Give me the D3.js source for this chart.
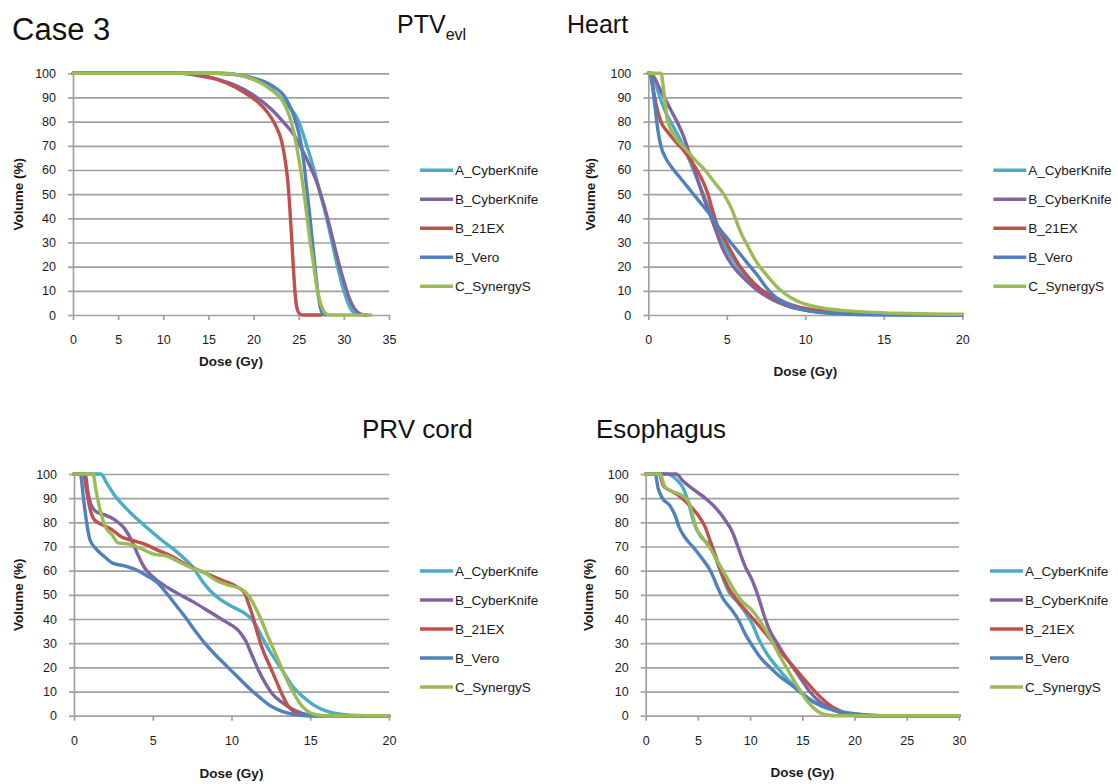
<!DOCTYPE html>
<html><head><meta charset="utf-8">
<script src="https://cdn.jsdelivr.net/npm/d3@7/dist/d3.min.js"></script>
<style>
html,body{margin:0;padding:0;background:#fff;}
svg{display:block;font-family:"Liberation Sans",Arial,sans-serif;}
</style></head>
<body>
<svg id="chart" width="1118" height="784"></svg>
<script>
// ---------- DATA ----------
const seriesNames = ["A_CyberKnife","B_CyberKnife","B_21EX","B_Vero","C_SynergyS"];
const seriesColors = ["#4BACC6","#8064A2","#C0504D","#4F81BD","#9BBB59"];
const yTicks = [0,10,20,30,40,50,60,70,80,90,100];

// PTVevl  [dose Gy, volume %]
const ptvTicks = [0,5,10,15,20,25,30,35];
const ptvA = [[0,100],[16,100],[18,99.5],[20,97.5],[22,93.5],[23.5,88],[25.0,80],[25.9,70],[26.7,60],[27.4,50],[28.1,40],[28.7,30],[29.3,20],[30.0,10],[30.7,3],[31.3,0.5],[32.5,0]];
const ptvB = [[0,100],[12,100],[14,99],[16,97.5],[18,95],[20,91],[22,85],[23.5,79],[24.4,75],[25.3,69],[26.2,62],[27.0,55],[27.6,48],[28.2,40],[28.8,31],[29.4,22],[30.0,14],[30.6,7],[31.2,2.5],[31.8,0.5],[32.5,0]];
const ptvC = [[0,100],[12,100],[15,98.5],[17,96],[19,92],[20.5,88],[21.7,83],[22.5,78],[23.1,72],[23.5,64],[23.8,55],[24.0,45],[24.2,33],[24.4,20],[24.6,9],[24.8,3],[25.1,0.5],[25.5,0],[27.5,0]];
const ptvD = [[0,100],[15,100],[18,99.5],[20,98],[22,95],[23.5,90],[24.3,84],[24.9,77],[25.3,70],[25.6,62],[25.9,52],[26.2,42],[26.5,31],[26.8,20],[27.1,10],[27.4,3],[27.7,0.5],[28,0]];
const ptvE = [[0,100],[16,100],[18,99.5],[20,97.5],[22,93],[23.3,88],[24.0,82],[24.5,75],[24.9,67],[25.3,58],[25.6,50],[25.9,41],[26.2,32],[26.6,22],[27.0,12],[27.4,5],[27.8,1.5],[28.2,0.2],[28.6,0],[33,0]];

// Heart
const heartTicks = [0,5,10,15,20];
const heartA = [[0,100],[0.2,100],[0.5,95],[0.8,89],[1.1,84],[1.5,79],[2.0,73],[2.5,66],[3.0,58],[3.5,50],[4.0,42],[4.5,34],[5.0,27],[5.6,21],[6.3,15],[7.0,10.5],[7.8,7],[8.8,4],[10,2],[12,0.8],[15,0.2],[20,0]];
const heartB = [[0,100],[0.3,99],[0.7,94],[1.1,89],[1.5,84],[1.9,79],[2.3,73],[2.7,65],[3.1,57],[3.5,49],[3.9,42],[4.3,35],[4.7,28],[5.1,23],[5.6,18.5],[6.2,14.5],[7.0,10],[8.0,6],[9.0,3.5],[10,2],[12,0.8],[15,0.2],[20,0]];
const heartC = [[0,100],[0.1,100],[0.3,94],[0.5,87],[0.8,80],[1.2,76],[1.7,72],[2.2,68.5],[2.7,64],[3.1,60],[3.5,55],[3.8,50],[4.1,43],[4.4,37],[4.8,32],[5.3,26],[5.8,20.5],[6.4,15.5],[7.1,11],[7.8,8],[8.6,5.5],[9.5,3.5],[10.5,2.2],[12,1.2],[14,0.5],[17,0.2],[20,0]];
const heartD = [[0,100],[0.1,100],[0.3,93],[0.45,85],[0.6,77],[0.8,70],[1.1,65],[1.5,61],[2.0,57],[2.5,53],[3.0,49],[3.5,45],[4.0,41],[4.5,36],[5.0,32],[5.5,28],[6.0,24],[6.5,20],[7.0,16],[7.5,11.5],[8.0,8],[8.6,5.5],[9.3,3.5],[10,2],[11,1],[13,0.3],[15,0.1],[20,0]];
const heartE = [[0,100],[0.8,100],[1.0,92],[1.2,81],[1.5,76],[1.9,72],[2.4,68.5],[3.0,64],[3.6,60],[4.2,55],[4.8,50],[5.3,44],[5.6,39],[5.9,34],[6.3,29],[6.7,24],[7.1,20],[7.6,16],[8.3,11],[9.0,7.5],[10,4.5],[11,3],[12.5,1.8],[14,1.2],[16,0.7],[18,0.4],[20,0.3]];

// PRV cord
const prvTicks = [0,5,10,15,20];
const prvA = [[0,100],[1.7,100],[2.1,96],[2.6,91],[3.2,86.5],[3.9,82],[4.6,78],[5.5,73],[6.3,69],[7.0,65],[7.6,61],[8.1,56],[8.6,52],[9.3,48],[10.1,45],[10.8,42.5],[11.4,39],[11.9,33],[12.4,27],[12.9,22],[13.4,17],[13.9,12],[14.5,8],[15.2,4.5],[16,2],[16.8,0.7],[17.6,0.2],[18.5,0],[20,0]];
const prvB = [[0,100],[0.7,100],[0.9,92],[1.1,87],[1.5,84],[2.0,83],[2.6,81],[3.2,77.5],[3.7,72],[4.1,66],[4.5,61],[5.0,57.5],[5.7,54],[6.6,50.5],[7.6,47],[8.6,43],[9.6,39],[10.4,35.5],[10.9,31],[11.3,25],[11.7,19],[12.1,14],[12.6,9],[13.2,5.5],[13.8,3],[14.4,1.2],[15,0.3],[15.5,0],[20,0]];
const prvC = [[0,100],[0.6,100],[0.8,93],[1.0,86],[1.3,81],[1.8,79],[2.4,77],[3.0,74],[3.7,72.5],[4.5,71],[5.3,68.5],[6.2,66],[7.0,63],[7.8,60.5],[8.7,58],[9.6,55.5],[10.3,53.5],[10.8,51],[11.1,46],[11.4,40],[11.7,33],[12.0,27],[12.4,21],[12.8,15],[13.2,9],[13.6,4],[14.0,1.5],[14.5,0.3],[15,0],[20,0]];
const prvD = [[0,100],[0.4,100],[0.6,90],[0.8,80],[1.0,73],[1.4,69],[1.9,66],[2.5,63],[3.2,62],[3.9,60.5],[4.6,58],[5.3,55],[5.9,50.5],[6.5,45.5],[7.1,40.5],[7.7,35],[8.3,30],[9.0,25],[9.7,20.5],[10.4,16],[11.1,11.5],[11.8,7.5],[12.5,4],[13.2,1.8],[14,0.5],[15,0],[20,0]];
const prvE = [[0,100],[1.2,100],[1.4,93],[1.7,84],[2.0,78],[2.4,75],[2.8,71.5],[3.5,71],[4.3,69],[5.0,67],[5.9,66],[6.7,63.5],[7.5,61],[8.2,59.5],[9.0,56],[9.8,54],[10.6,52.5],[11.1,49.5],[11.5,45],[11.9,39.5],[12.3,33],[12.7,27],[13.1,21],[13.5,15],[13.9,10],[14.3,5.5],[14.8,2],[15.3,0.5],[16,0],[20,0]];

// Esophagus
const esoTicks = [0,5,10,15,20,25,30];
const esoA = [[0,100],[2.0,100],[3.0,97.5],[3.6,94],[4.1,88],[4.6,80],[5.3,74],[6.2,70],[6.8,64],[7.3,58],[8.0,51],[8.8,47],[9.5,43],[10.2,38],[10.9,31],[11.7,25],[12.6,20],[13.6,15],[14.6,11],[15.6,7],[16.8,4],[18.2,2],[19.7,0.8],[21,0.2],[22.5,0],[30,0]];
const esoB = [[0,100],[2.9,100],[3.6,97],[4.6,93.5],[5.7,90],[6.7,86],[7.6,81],[8.3,76],[8.9,69],[9.5,62],[10.2,56],[10.8,49],[11.3,42],[11.8,36],[12.5,30.5],[13.3,25],[14.1,20],[14.9,15],[15.7,10],[16.6,6],[17.5,3.5],[18.5,1.5],[19.5,0.5],[20.5,0],[30,0]];
const esoC = [[0,100],[1.3,100],[1.7,95],[2.4,93],[3.2,91],[4.1,87.5],[5.0,83],[5.7,78],[6.2,72],[6.7,66],[7.2,60],[7.9,53],[8.7,48],[9.6,43.5],[10.5,39],[11.4,34.5],[12.4,29],[13.3,24.5],[14.2,20],[15.1,15.5],[16.0,11],[16.9,7],[17.8,3.8],[18.7,1.8],[19.6,0.5],[20.5,0],[30,0]];
const esoD = [[0,100],[0.9,100],[1.2,94],[1.6,90],[2.3,87],[2.8,83],[3.2,78],[3.8,73.5],[4.6,69.5],[5.4,65],[6.2,60],[6.8,54],[7.4,48.5],[8.2,44],[8.9,39.5],[9.5,34],[10.2,29],[11.0,24],[11.9,20],[12.9,16],[14.0,12.5],[15.0,9],[16.0,6],[17.2,3.5],[18.6,1.8],[20,0.8],[21.5,0.2],[22.5,0],[30,0]];
const esoE = [[0,100],[1.4,100],[1.8,95],[2.4,93],[3.3,91.5],[4.1,88.5],[4.5,83],[4.8,78],[5.4,74],[6.2,69],[7.0,63],[7.8,57],[8.6,51],[9.3,47],[10.1,44],[10.9,39.5],[11.6,34.5],[12.2,30],[12.8,25],[13.4,20.5],[14.0,16],[14.7,11],[15.3,7],[16.0,3.5],[16.7,1.2],[17.5,0.2],[18.2,0],[30,0]];

// ---------- LAYOUT ----------
const panels = [
  {series:[ptvA,ptvB,ptvC,ptvD,ptvE], ticks:ptvTicks, left:73, right:389, top:73.3, bottom:315, yTitleX:18, xTitleY:361},
  {series:[heartA,heartB,heartC,heartD,heartE], ticks:heartTicks, left:648.3, right:962.3, top:73.3, bottom:315, yTitleX:590, xTitleY:371},
  {series:[prvA,prvB,prvC,prvD,prvE], ticks:prvTicks, left:74, right:389, top:474, bottom:715.7, yTitleX:18, xTitleY:773},
  {series:[esoA,esoB,esoC,esoD,esoE], ticks:esoTicks, left:645.7, right:959, top:474, bottom:715.7, yTitleX:588, xTitleY:772}
];

const svg = d3.select("#chart");
const gridColor = "#a0a0a0";
const textColor = "#1a1a1a";

panels.forEach(p => {
  const xMax = p.ticks[p.ticks.length-1];
  const x = d3.scaleLinear().domain([0, xMax]).range([p.left, p.right]);
  const y = d3.scaleLinear().domain([0, 100]).range([p.bottom, p.top]);
  const w = p.right - p.left;

  // gridlines
  const grid = svg.append("g").attr("transform", `translate(${p.left},0)`)
    .call(d3.axisLeft(y).tickValues(yTicks.slice(1)).tickSize(-w).tickFormat(""));
  grid.select(".domain").remove();
  grid.selectAll("line").attr("stroke", gridColor).attr("stroke-width", 1.7);

  // y axis
  const ya = svg.append("g").attr("transform", `translate(${p.left},0)`)
    .call(d3.axisLeft(y).tickValues(yTicks).tickSize(5).tickSizeOuter(0).tickPadding(12));
  ya.select(".domain").attr("stroke", gridColor).attr("stroke-width", 1.7);
  ya.selectAll("line").attr("stroke", gridColor).attr("stroke-width", 1.7);
  ya.selectAll("text").attr("fill", textColor).style("font-size", "12.5px").style("font-family", "'Liberation Sans',Arial,sans-serif");

  // x axis
  const xa = svg.append("g").attr("transform", `translate(0,${p.bottom})`)
    .call(d3.axisBottom(x).tickValues(p.ticks).tickSize(5).tickSizeOuter(0).tickPadding(15));
  xa.select(".domain").attr("stroke", gridColor).attr("stroke-width", 1.7);
  xa.selectAll("line").attr("stroke", gridColor).attr("stroke-width", 1.7);
  xa.selectAll("text").attr("fill", textColor).style("font-size", "12.5px").style("font-family", "'Liberation Sans',Arial,sans-serif");

  // series
  const line = d3.line().x(d => x(d[0])).y(d => y(d[1])).curve(d3.curveMonotoneX);
  p.series.forEach((s, i) => {
    svg.append("path").datum(s).attr("d", line)
      .attr("fill", "none").attr("stroke", seriesColors[i])
      .attr("stroke-width", 3.4).attr("stroke-linejoin", "round").attr("stroke-linecap", "round");
  });

  // axis titles
  svg.append("text").attr("x", (p.left + p.right) / 2).attr("y", p.xTitleY + 5)
    .attr("text-anchor", "middle").attr("fill", textColor)
    .style("font-size", "13.5px").style("font-weight", "bold").text("Dose (Gy)");
  const cy = (p.top + p.bottom) / 2;
  svg.append("text").attr("transform", `translate(${p.yTitleX + 5},${cy}) rotate(-90)`)
    .attr("text-anchor", "middle").attr("fill", textColor)
    .style("font-size", "13.5px").style("font-weight", "bold").text("Volume (%)");

  // legend
  seriesNames.forEach((name, i) => {
    const ly = p.top + 97 + i * 29;
    svg.append("line").attr("x1", p.right + 31).attr("x2", p.right + 64)
      .attr("y1", ly).attr("y2", ly).attr("stroke", seriesColors[i]).attr("stroke-width", 3.4);
    svg.append("text").attr("x", p.right + 66).attr("y", ly + 5).attr("fill", textColor)
      .style("font-size", "13.5px").text(name);
  });
});

// titles
svg.append("text").attr("x", 12).attr("y", 40).attr("fill", "#111").style("font-size", "31px").text("Case 3");
const ptvT = svg.append("text").attr("x", 397).attr("y", 33).attr("fill", "#111").style("font-size", "25px");
ptvT.append("tspan").text("PTV");
ptvT.append("tspan").attr("dy", 7).style("font-size", "16px").text("evl");
svg.append("text").attr("x", 567).attr("y", 33).attr("fill", "#111").style("font-size", "25px").text("Heart");
svg.append("text").attr("x", 362).attr("y", 438).attr("fill", "#111").style("font-size", "26px").text("PRV cord");
svg.append("text").attr("x", 596).attr("y", 438).attr("fill", "#111").style("font-size", "26px").text("Esophagus");
</script>
</body></html>
